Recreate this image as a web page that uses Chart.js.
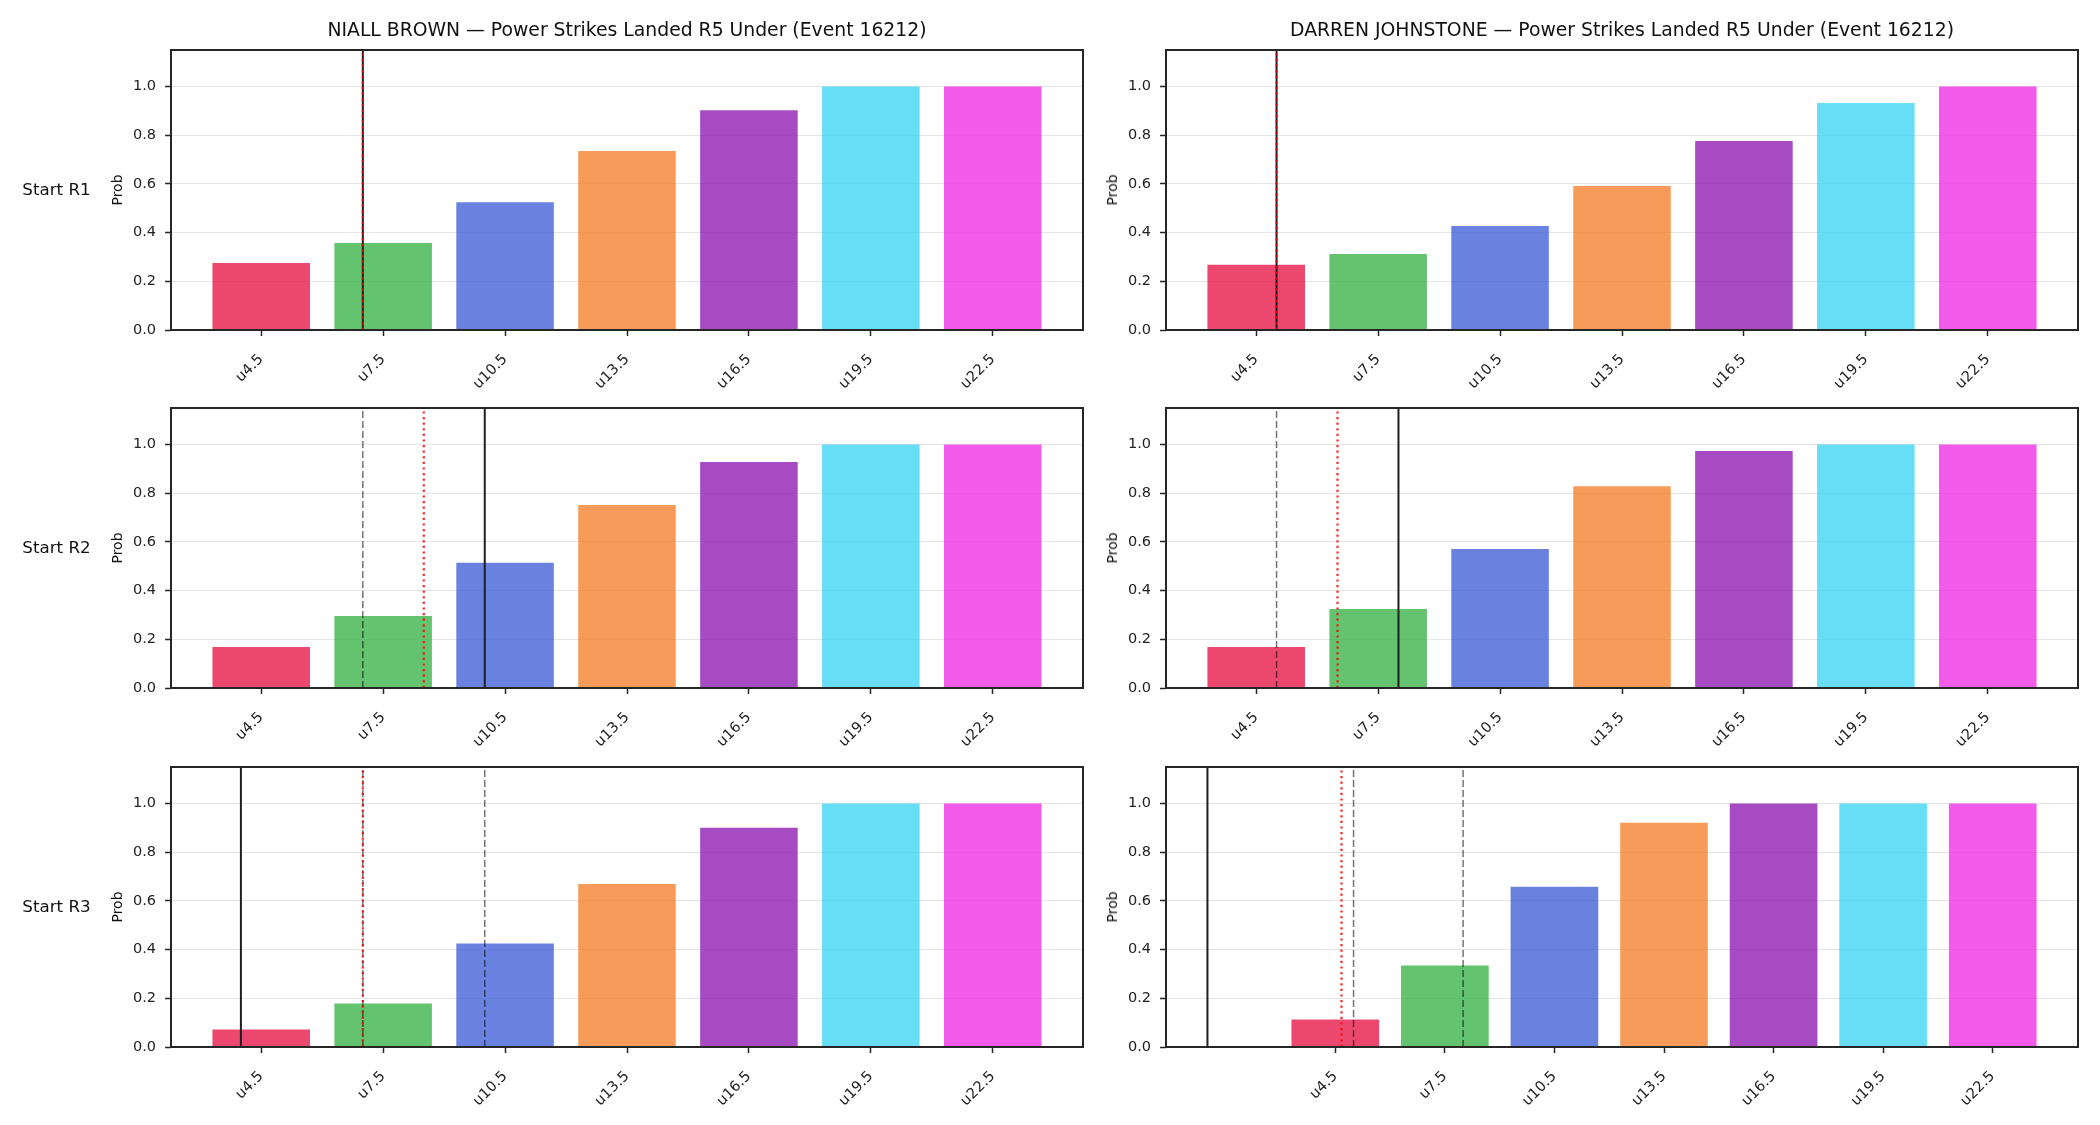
<!DOCTYPE html>
<html><head><meta charset="utf-8">
<script src="https://cdn.jsdelivr.net/npm/chart.js@4.4.1/dist/chart.umd.min.js"></script>
<style>
html,body{margin:0;padding:0;background:#fff;}
body{width:2100px;height:1125px;position:relative;overflow:hidden;font-family:"DejaVu Sans",sans-serif;color:#111;}
canvas{position:absolute;}
.t{position:absolute;white-space:nowrap;}
</style></head><body>
<script>
// ---------- data ----------
const labels = ['u4.5','u7.5','u10.5','u13.5','u16.5','u19.5','u22.5'];
const thresholds = [4.5, 7.5, 10.5, 13.5, 16.5, 19.5, 22.5];
const yTicks = [0, 0.2, 0.4, 0.6, 0.8, 1.0];
const yMax = 1.15;

const fighters = ['NIALL BROWN', 'DARREN JOHNSTONE'];
const titleSuffix = ' \u2014 Power Strikes Landed R5 Under (Event 16212)';
const rowLabels = ['Start R1', 'Start R2', 'Start R3'];

const niallR1 = [0.275, 0.357, 0.525, 0.735, 0.903, 1.0, 1.0];
const niallR2 = [0.168, 0.296, 0.514, 0.752, 0.928, 1.0, 1.0];
const niallR3 = [0.072, 0.179, 0.425, 0.669, 0.900, 1.0, 1.0];
const darrenR1 = [0.268, 0.312, 0.427, 0.591, 0.776, 0.932, 1.0];
const darrenR2 = [0.168, 0.324, 0.571, 0.829, 0.973, 1.0, 1.0];
const darrenR3 = [0.113, 0.335, 0.658, 0.921, 1.0, 1.0, 1.0];

// vertical reference lines (in strikes)
const niallCurrent = [7, 10, 4];
const niallPrevious = [[], [7], [7, 10]];
const niallMean = [7, 8.5, 7];
const darrenCurrent = [5, 8, 1];
const darrenPrevious = [[], [5], [5, 8]];
const darrenMean = [5, 6.5, 4.67];

const palette = ['rgba(230,25,75,0.8)','rgba(60,180,75,0.8)','rgba(67,99,216,0.8)','rgba(245,130,49,0.8)',
                 'rgba(145,30,180,0.8)','rgba(66,212,244,0.8)','rgba(240,50,230,0.8)'];

// ---------- layout ----------
const COL_X = [171, 1166];
const AX_W = 912;
const ROW_Y = [50, 408, 767];
const AX_H = 280;
const PAD_L = 90, PAD_R = 10, PAD_T = 10, PAD_B = 80;
const FONT = 'DejaVu Sans';
Chart.defaults.font.family = FONT;

const boxPlugin = {
  id: 'box',
  afterDraw(chart) {
    const {ctx, chartArea: a} = chart;
    ctx.save();
    ctx.strokeStyle = '#262626';
    ctx.lineWidth = 2;
    ctx.strokeRect(a.left, a.top, a.right - a.left, a.bottom - a.top);
    ctx.restore();
  }
};

function addText(txt, css) {
  const d = document.createElement('div');
  d.className = 't';
  d.textContent = txt;
  Object.assign(d.style, css);
  document.body.appendChild(d);
}

function vline(v, style) {
  return Object.assign({type: 'line', data: [{x: v, y: 0}, {x: v, y: yMax}],
    pointRadius: 0, pointHoverRadius: 0, fill: false, tension: 0}, style);
}

function makeChart(col, row, values, current, prev, mean) {
  const c = document.createElement('canvas');
  const w = PAD_L + AX_W + PAD_R, h = PAD_T + AX_H + PAD_B;
  c.width = w; c.height = h;
  c.style.left = (COL_X[col] - PAD_L) + 'px';
  c.style.top = (ROW_Y[row] - PAD_T) + 'px';
  c.style.width = w + 'px'; c.style.height = h + 'px';
  document.body.appendChild(c);

  const spacing = thresholds[1] - thresholds[0];
  const half = 0.4 * spacing;
  const lineVals = [current, ...prev, mean];
  const lo = Math.min(thresholds[0] - half, ...lineVals);
  const hi = Math.max(thresholds[thresholds.length - 1] + half, ...lineVals);
  const pad = 0.05 * (hi - lo);

  const datasets = [
    vline(mean, {borderColor: 'rgba(255,0,0,0.85)', borderWidth: 2.2, borderDash: [2.2, 3.4], order: 1}),
    vline(current, {borderColor: '#1f1f1f', borderWidth: 2, order: 2}),
    ...prev.map(p => vline(p, {borderColor: 'rgba(0,0,0,0.55)', borderWidth: 1.5, borderDash: [7, 3], order: 3})),
    {type: 'bar', data: thresholds.map((t, i) => ({x: t, y: values[i]})),
     backgroundColor: palette, borderWidth: 0, barPercentage: 0.8, categoryPercentage: 1.0, order: 10}
  ];

  new Chart(c, {
    type: 'bar',
    data: {datasets},
    options: {
      responsive: false, animation: false, devicePixelRatio: 1,
      layout: {padding: {left: 0, right: PAD_R, top: PAD_T, bottom: 0}},
      plugins: {legend: {display: false}, tooltip: {enabled: false}, title: {display: false}},
      scales: {
        x: {
          type: 'linear', min: lo - pad, max: hi + pad, offset: false,
          afterFit(s) { s.height = PAD_B; s.paddingLeft = 0; s.paddingRight = 0; },
          afterBuildTicks(s) { s.ticks = thresholds.map(v => ({value: v})); },
          ticks: {autoSkip: false, minRotation: 45, maxRotation: 45, padding: 15,
                  callback: (v) => labels[thresholds.indexOf(v)],
                  font: {family: FONT, size: 14.5}, color: '#222'},
          grid: {offset: false, drawOnChartArea: false, drawTicks: true, tickLength: 6, tickColor: '#262626', tickWidth: 1.5},
          border: {display: false}
        },
        y: {
          type: 'linear', min: 0, max: yMax, z: 1,
          afterFit(s) { s.width = PAD_L; s.paddingTop = 0; s.paddingBottom = 0; },
          afterBuildTicks(s) { s.ticks = yTicks.map(v => ({value: v})); },
          ticks: {padding: 9, callback: (v) => v.toFixed(1), font: {family: FONT, size: 14.5}, color: '#222'},
          grid: {offset: false, color: 'rgba(0,0,0,0.1)', lineWidth: 1, drawTicks: true, tickLength: 6, tickColor: '#262626', tickWidth: 1.5},
          border: {display: false}
        }
      }
    },
    plugins: [boxPlugin]
  });

  // y label
  addText('Prob', {left: (COL_X[col] - 54.5) + 'px', top: (ROW_Y[row] + AX_H / 2) + 'px',
    transform: 'translate(-50%,-50%) rotate(-90deg)', fontSize: '14px', lineHeight: '1'});
}

const niallData = [niallR1, niallR2, niallR3];
const darrenData = [darrenR1, darrenR2, darrenR3];
for (let r = 0; r < 3; r++) {
  makeChart(0, r, niallData[r], niallCurrent[r], niallPrevious[r], niallMean[r]);
  makeChart(1, r, darrenData[r], darrenCurrent[r], darrenPrevious[r], darrenMean[r]);
  addText(rowLabels[r], {left: '0px', width: '113px', textAlign: 'center',
    top: (ROW_Y[r] + AX_H / 2 - 10.8) + 'px', fontSize: '16.7px', lineHeight: '20px'});
}
for (let c = 0; c < 2; c++) {
  addText(fighters[c] + titleSuffix, {left: COL_X[c] + 'px', width: AX_W + 'px', textAlign: 'center',
    top: '18.5px', fontSize: '18.8px', lineHeight: '22px'});
}
</script>
</body></html>
